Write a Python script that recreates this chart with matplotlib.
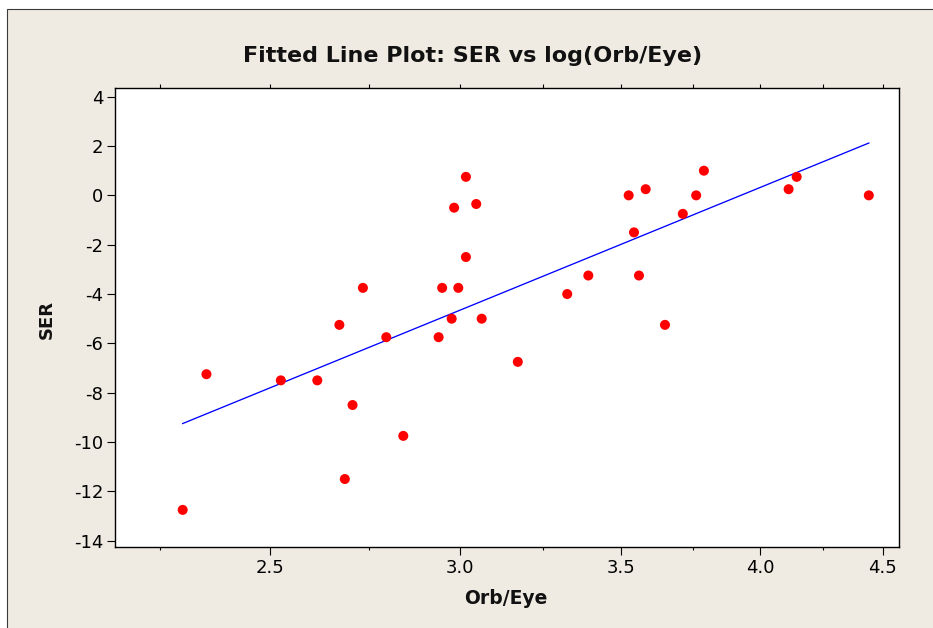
import numpy as np
import matplotlib
matplotlib.use("Agg")
import matplotlib.pyplot as plt
from matplotlib.patches import Rectangle
from matplotlib.ticker import FixedLocator, NullFormatter, FixedFormatter

# ---- data ----
orb_eye = [2.299, 2.352, 2.526, 2.616, 2.672, 2.686, 2.706, 2.733, 2.795, 2.841,
           2.939, 2.949, 2.976, 2.983, 2.995, 3.017, 3.017, 3.047, 3.063, 3.171,
           3.325, 3.393, 3.527, 3.545, 3.562, 3.585, 3.652, 3.715, 3.763, 3.791,
           4.112, 4.144, 4.441]
ser = [-12.75, -7.25, -7.5, -7.5, -5.25, -11.5, -8.5, -3.75, -5.75, -9.75,
       -5.75, -3.75, -5.0, -0.5, -3.75, 0.75, -2.5, -0.35, -5.0, -6.75,
       -4.0, -3.25, 0.0, -1.5, -3.25, 0.25, -5.25, -0.75, 0.0, 1.0,
       0.25, 0.75, 0.0]

x_major = [2.5, 3.0, 3.5, 4.0, 4.5]
x_major_labels = ["2.5", "3.0", "3.5", "4.0", "4.5"]
x_minor = [2.25, 2.75, 3.25, 3.75, 4.25]
y_ticks = [-14, -12, -10, -8, -6, -4, -2, 0, 2, 4]

title = "Fitted Line Plot: SER vs log(Orb/Eye)"
xlabel = "Orb/Eye"
ylabel = "SER"

# ---- figure ----
W, H = 933, 628
fig = plt.figure(figsize=(W / 100, H / 100), dpi=100, facecolor="white")
bg = "#EFEBE2"
frame = Rectangle((7.5 / W, -0.1), 1.2, (H - 8.5) / H + 0.1,
                  transform=fig.transFigure, facecolor=bg,
                  edgecolor="#3a3a3a", linewidth=0.8, zorder=-10)
fig.patches.append(frame)

ax = fig.add_axes([115 / W, 1 - 546.7 / H, (899 - 115) / W, (546.7 - 88.3) / H])
ax.set_zorder(1)
ax.set_facecolor("white")
ax.set_xscale("log")
ax.set_xlim(2.1544, 4.5715)
ax.set_ylim(-14.243, 4.34)

x = np.array(orb_eye)
y = np.array(ser)
b, a = np.polyfit(np.log10(x), y, 1)
xs = np.linspace(x.min(), x.max(), 30)
ax.plot(xs, a + b * np.log10(xs), color="#0000FF", lw=0.95, zorder=2)
ax.scatter(x, y, s=52, color="#FF0000", edgecolors="none", zorder=3)

ax.xaxis.set_major_locator(FixedLocator(x_major))
ax.xaxis.set_major_formatter(FixedFormatter(x_major_labels))
ax.xaxis.set_minor_locator(FixedLocator(x_minor))
ax.xaxis.set_minor_formatter(NullFormatter())
ax.set_yticks(y_ticks)
ax.set_yticklabels([str(v) for v in y_ticks])

for sp in ax.spines.values():
    sp.set_linewidth(1.0)
    sp.set_color("black")

ax.tick_params(axis="both", which="major", direction="out", length=5.5, width=0.8,
               labelsize=13, colors="black", pad=3.0)
ax.tick_params(axis="x", which="minor", direction="out", length=2.4, width=0.8)
ax.tick_params(axis="y", right=False, left=True)

# top ticks (all same short length, no labels)
ax2 = ax.twiny()
ax2.set_xscale("log")
ax2.set_xlim(ax.get_xlim())
ax2.xaxis.set_major_locator(FixedLocator(x_major + x_minor))
ax2.xaxis.set_major_formatter(NullFormatter())
ax2.xaxis.set_minor_locator(FixedLocator([]))
ax2.tick_params(axis="x", which="major", direction="out", length=2.9, width=0.8)
for sp in ax2.spines.values():
    sp.set_visible(False)
ax2.patch.set_visible(False)

fig.text(473 / W, 1 - 62.3 / H, title, ha="center", va="baseline",
         fontsize=16, fontweight="bold", color="#111111")
fig.text(505.5 / W, 1 - 604 / H, xlabel, ha="center", va="baseline",
         fontsize=13.5, fontweight="bold", color="#111111")
fig.text(46.7 / W, 1 - 319 / H, ylabel, ha="center", va="center", rotation=90,
         fontsize=13, fontweight="bold", color="#111111")

fig.savefig("out.png", dpi=100, facecolor=fig.get_facecolor())
